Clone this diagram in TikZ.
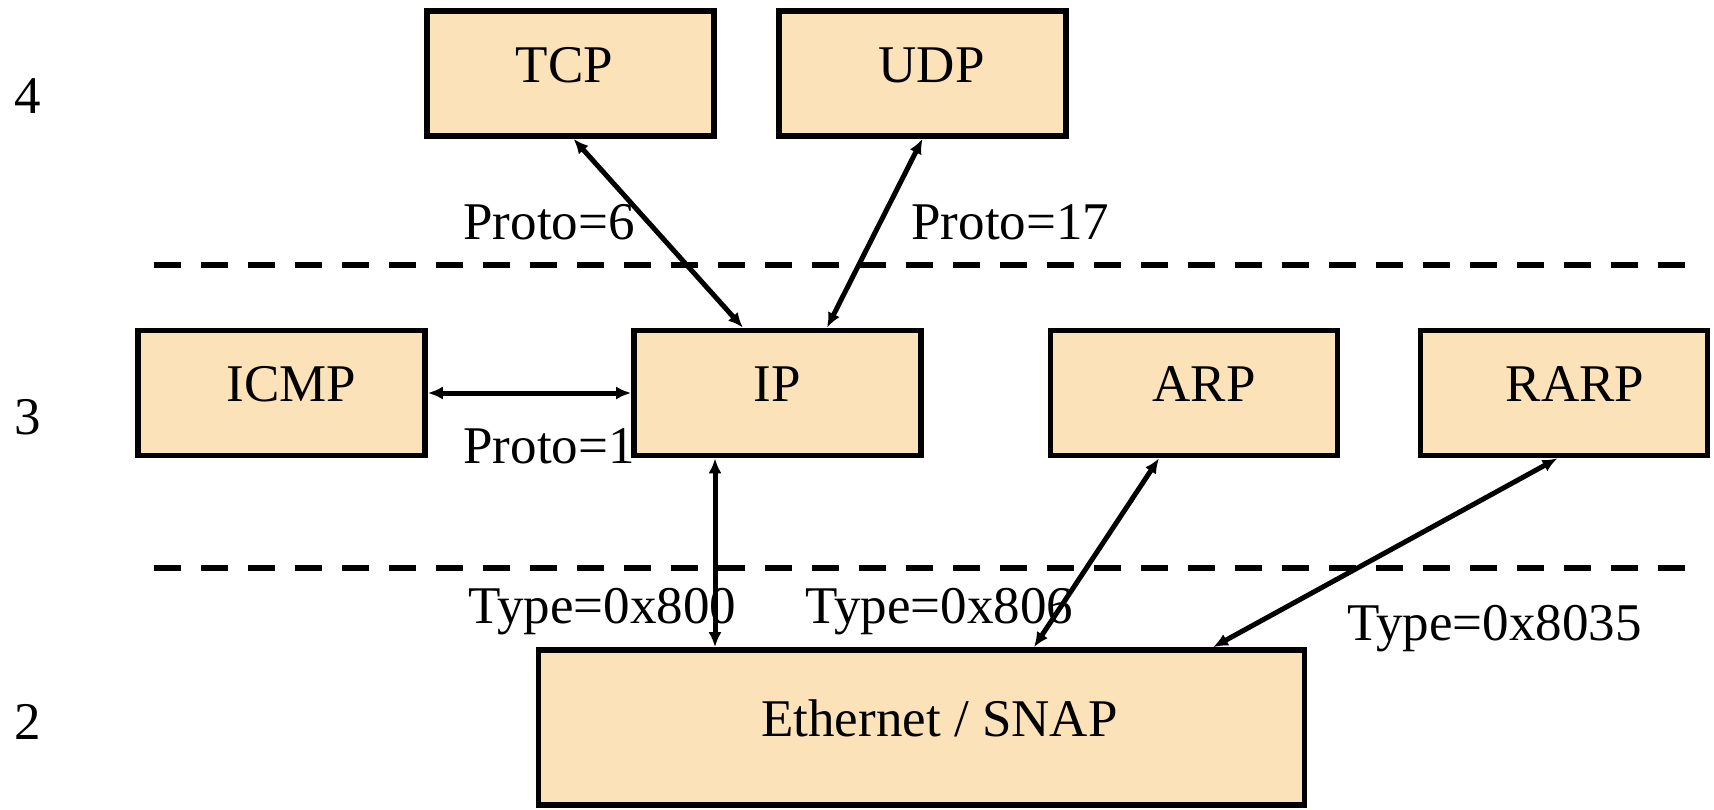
\documentclass[tikz,border=0pt]{standalone}
\usepackage{fontspec}
\setmainfont{Liberation Serif}
\usetikzlibrary{arrows.meta,calc}
\definecolor{boxfill}{RGB}{251,226,185}
\begin{document}
\begin{tikzpicture}[x=0.5pt,y=-0.5pt,
  txt/.style={font=\fontsize{26.5pt}{30pt}\selectfont},
  layerbox/.style={txt,draw=black,line width=2.8pt,fill=boxfill,
    minimum width=143.5pt,minimum height=62.5pt,inner sep=0pt,
    text height=17.5pt,text depth=9pt},
  % moves the box text sideways by half the given amount
  nudge/.style={execute at begin node={\hspace*{#1}}},
  link/.style={line width=2.5pt,
    {Latex[length=7.5pt,width=6.5pt]}-{Latex[length=7.5pt,width=6.5pt]}},
  layersep/.style={line width=3.2pt,dash pattern=on 13.5pt off 10pt},
  tag/.style={txt,anchor=base west,inner sep=0pt}]

\useasboundingbox (0,0) rectangle (1714,809);

% layer separators
\coordinate (s1a) at (154,265);
\coordinate (s1b) at (1692,265);
\coordinate (s2a) at (154,568);
\coordinate (s2b) at (1692,568);
\draw[layersep] (s1a) -- (s1b);
\draw[layersep] (s2a) -- (s2b);

% layer numbers
\node[tag] (l4) at (14,113) {4};
\node[tag] (l3) at (14,434) {3};
\node[tag] (l2) at (14,739) {2};

% protocol boxes
\node[layerbox,nudge=-6pt]  (tcp)  at (570.5,73.5) {TCP};
\node[layerbox,nudge=9pt]   (udp)  at (922.5,73.5) {UDP};
\node[layerbox,nudge=10pt]  (icmp) at (281.5,393) {ICMP};
\node[layerbox]             (ip)   at (777.5,393) {IP};
\node[layerbox,nudge=10pt]  (arp)  at (1194,393) {ARP};
\node[layerbox,nudge=11pt]  (rarp) at (1564,393) {RARP};
\node[layerbox,nudge=18pt,minimum width=383pt,minimum height=77.5pt] (eth) at (921.5,727.5) {Ethernet / SNAP};

% demultiplexing links
\draw[link] ($(tcp.south)+(3,0)$) -- ($(ip.north)+(-34.5,0)$);
\draw[link] (udp.south) -- ($(ip.north)+(49.5,0)$);
\draw[link] (icmp.east) -- (ip.west);
\draw[link] ($(ip.south)+(-62.5,0)$) -- ($(eth.north)+(-206.5,0)$);
\draw[link] ($(arp.south)+(-35,0)$) -- ($(eth.north)+(112.5,0)$);
\draw[link] ($(rarp.south)+(-6.5,0)$) -- ($(eth.north)+(291.5,0)$);

% field values
\node[tag] (p6)  at (463,239) {Proto=6};
\node[tag] (p17) at (911,239) {Proto=17};
\node[tag] (p1)  at (463,463) {Proto=1};
\node[tag] (t800)  at (468,623) {Type=0x800};
\node[tag] (t806)  at (805,623) {Type=0x806};
\node[tag] (t8035) at (1347,640) {Type=0x8035};
\end{tikzpicture}
\end{document}
